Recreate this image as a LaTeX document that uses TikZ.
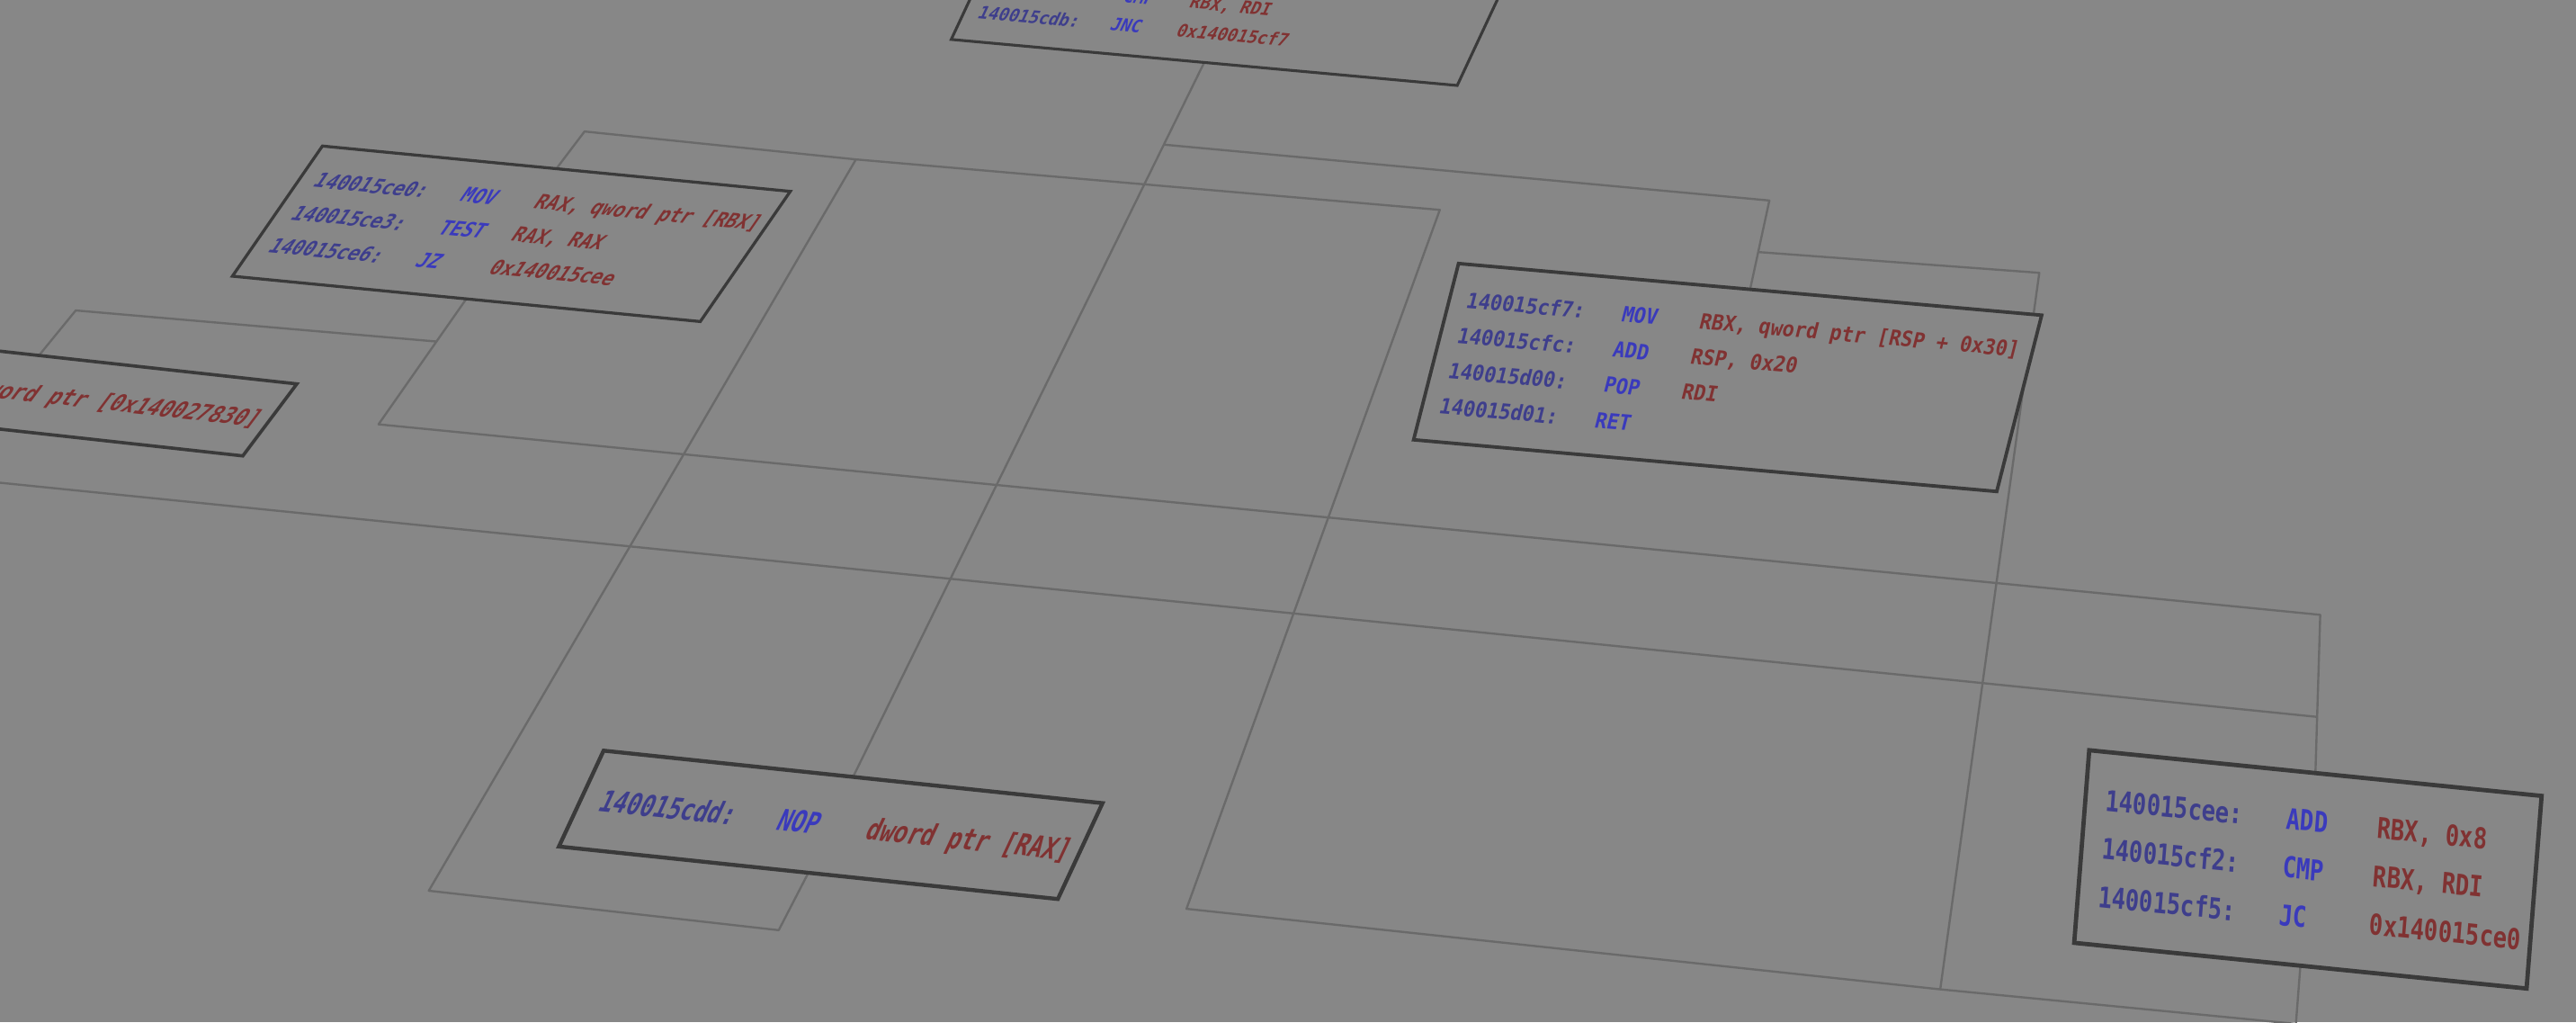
\documentclass[tikz,border=0pt]{standalone}
\usepackage{fontspec}
\newfontfamily\codefont[FakeStretch=0.8]{DejaVu Sans Mono}
\usetikzlibrary{calc}
\definecolor{bgc}{RGB}{135,135,135}
\definecolor{edgec}{RGB}{106,106,106}
\definecolor{boxc}{RGB}{58,58,58}
\definecolor{addrc}{RGB}{62,62,140}
\definecolor{mnemc}{RGB}{58,58,188}
\definecolor{operc}{RGB}{128,50,50}
\pgfdeclarelayer{back}
\pgfdeclarelayer{wires}
\pgfsetlayers{back,wires,main}
\tikzset{
  blk/.style={rectangle, draw=boxc, fill=bgc, inner sep=0pt, outer sep=0pt},
  conn/.style={draw=edgec, line width=1.3pt, line join=round},
  code/.style={anchor=base west, inner sep=0pt, font={\codefont\bfseries\fontsize{12.5pt}{15pt}\selectfont}},
  addr/.style={code, text=addrc},
  mnem/.style={code, text=mnemc},
  oper/.style={code, text=operc},
}
% #1 name prefix, #2 left edge of box (local), #3 line centre (local), #4 address, #5 mnemonic, #6 operands
\newcommand\asmrow[6]{%
  \node[addr] (#1a) at ({#2+8.7},{#3+4.5}) {#4};
  \node[mnem] (#1m) at ({#2+87.9},{#3+4.5}) {#5};
  \node[oper] (#1o) at ({#2+127.5},{#3+4.5}) {#6};}
\begin{document}
\begin{tikzpicture}[x=1pt,y=-1pt]
\useasboundingbox (0,0) rectangle (1568,622);
\begin{pgfonlayer}{back}
  \fill[bgc] (0,0) rectangle (1568,622);
\end{pgfonlayer}

% B0 : top block (cut by the upper border)
\begin{scope}[shift={(749.2,3.4)}, cm={1.0165,-0.0924,0.3857,0.8238,(0,0)}, transform shape]
  \node[blk, minimum width=303pt, minimum height=84pt, line width=1.7pt] (B0) at (0,0) {};
  \asmrow{B0r2}{-151.5}{0}{140015cd8:}{CMP}{RBX, RDI}
  \asmrow{B0r3}{-151.5}{21}{140015cdb:}{JNC}{0x140015cf7}
\end{scope}

% B1
\begin{scope}[shift={(311.25,142.25)}, cm={1.1302,-0.1095,0.6524,0.9429,(0,0)}, transform shape]
  \node[blk, minimum width=252pt, minimum height=84pt, line width=1.8pt] (B1) at (0,0) {};
  \asmrow{B1r1}{-126}{-21}{140015ce0:}{MOV}{RAX, qword ptr [RBX]}
  \asmrow{B1r2}{-126}{0}{140015ce3:}{TEST}{RAX, RAX}
  \asmrow{B1r3}{-126}{21}{140015ce6:}{JZ}{0x140015cee}
\end{scope}

% B2 : far left block (cut by the left border)
\begin{scope}[shift={(7.25,238.2)}, cm={1.246,-0.1373,0.7833,1.0429,(0,0)}, transform shape]
  \node[blk, minimum width=252pt, minimum height=42pt, line width=2pt] (B2) at (0,0) {};
  \node[oper] (B2o) at (-17.3,4.5) {qword ptr [0x140027830]};
\end{scope}

% B3
\begin{scope}[shift={(1051.6,229.7)}, cm={1.1951,-0.1059,0.2605,1.0214,(0,0)}, transform shape]
  \node[blk, minimum width=297pt, minimum height=105pt, line width=2.1pt] (B3) at (0,0) {};
  \asmrow{B3r1}{-148.5}{-31.5}{140015cf7:}{MOV}{RBX, qword ptr [RSP + 0x30]}
  \asmrow{B3r2}{-148.5}{-10.5}{140015cfc:}{ADD}{RSP, 0x20}
  \asmrow{B3r3}{-148.5}{10.5}{140015d00:}{POP}{RDI}
  \asmrow{B3r4}{-148.5}{31.5}{140015d01:}{RET}{}
\end{scope}

% B4
\begin{scope}[shift={(505.65,501.9)}, cm={1.368,-0.1439,0.6476,1.389,(0,0)}, transform shape]
  \node[blk, minimum width=222pt, minimum height=42pt, line width=2.4pt] (B4) at (0,0) {};
  \asmrow{B4r1}{-111}{0}{140015cdd:}{NOP}{dword ptr [RAX]}
\end{scope}

% B5
\begin{scope}[shift={(1404.8,529)}, cm={1.3907,-0.1404,0.1089,1.3952,(0,0)}, transform shape]
  \node[blk, minimum width=198pt, minimum height=84pt, line width=2.6pt] (B5) at (0,0) {};
  \asmrow{B5r1}{-99}{-21}{140015cee:}{ADD}{RBX, 0x8}
  \asmrow{B5r2}{-99}{0}{140015cf2:}{CMP}{RBX, RDI}
  \asmrow{B5r3}{-99}{21}{140015cf5:}{JC}{0x140015ce0}
\end{scope}

% bend points of the connectors
\coordinate (J1) at ($(B0.south)!0.115!(B4.north)$);
\coordinate (C2) at (1077,122);
\coordinate (J2) at ($(C2)!0.58!(B3.north)$);
\coordinate (C3) at (474,566);
\coordinate (C4) at (261,542);
\coordinate (C5) at (521,97);
\coordinate (C6) at (355.8,80);
\coordinate (C7) at (876.4,127.7);
\coordinate (C8) at (722.2,553);
\coordinate (C9) at (1181,602);
\coordinate (C10) at (1397.5,623);
\coordinate (C11) at (1241.3,166);
\coordinate (C13) at (230.4,258.2);
\coordinate (J3) at ($(B1.south)!0.34!(C13)$);
\coordinate (C14) at (46.1,188.9);
\coordinate (C15) at (1412.3,374.1);
\coordinate (J4) at ($(C15)!0.645!(B5.north)$);
\coordinate (C16) at (-32,290.5);

\begin{pgfonlayer}{wires}
  \draw[conn] (B0.south) -- (B4.north);
  \draw[conn] (J1) -- (C2) -- (B3.north);
  \draw[conn] (B4.south) -- (C3) -- (C4) -- (C5) -- (C6) -- (B1.north);
  \draw[conn] (B5.south) -- (C10) -- (C9) -- (C8) -- (C7) -- (C5);
  \draw[conn] (C9) -- (C11) -- (J2);
  \draw[conn] (B1.south) -- (C13) -- (C15) -- (B5.north);
  \draw[conn] (J3) -- (C14) -- (B2.north);
  \draw[conn] (B2.south) -- (C16) -- (J4);
\end{pgfonlayer}
\end{tikzpicture}
\end{document}
